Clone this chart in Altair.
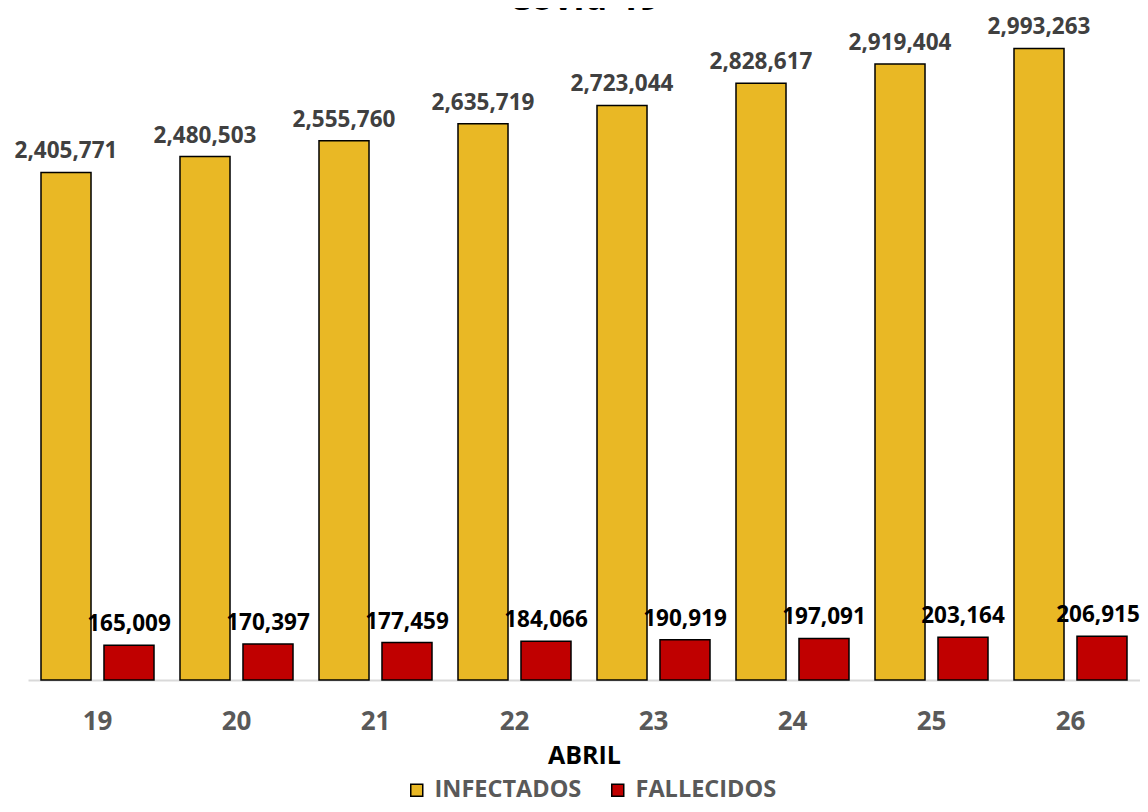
import altair as alt
import pandas as pd

days = ["19", "20", "21", "22", "23", "24", "25", "26"]
infectados = [2405771, 2480503, 2555760, 2635719, 2723044, 2828617, 2919404, 2993263]
fallecidos = [165009, 170397, 177459, 184066, 190919, 197091, 203164, 206915]
series = ["INFECTADOS", "FALLECIDOS"]
colors = ["#E9B825", "#C00000"]

rows = []
for d, i, f in zip(days, infectados, fallecidos):
    rows.append({"dia": d, "serie": series[0], "valor": i})
    rows.append({"dia": d, "serie": series[1], "valor": f})
df = pd.DataFrame(rows)

FONT = "Open Sans"

x = alt.X("dia:N", sort=days,
          scale=alt.Scale(paddingInner=0.187, paddingOuter=0.0935),
          axis=alt.Axis(title="ABRIL", labelAngle=0, ticks=False,
                        domainColor="#D9D9D9", domainWidth=2,
                        labelFont=FONT, labelFontSize=26, labelFontWeight="bold",
                        labelColor="#595959", labelPadding=28,
                        titleFont=FONT, titleFontSize=25, titleFontWeight="bold",
                        titleColor="#000000", titlePadding=9))
xo = alt.XOffset("serie:N", sort=series,
                 scale=alt.Scale(paddingInner=0.206, paddingOuter=0))
y = alt.Y("valor:Q", axis=None, scale=alt.Scale(domain=[0, 3000000], nice=False))

base = alt.Chart(df)

bars = base.mark_bar(stroke="#000000", strokeWidth=1.5).encode(
    x=x, xOffset=xo, y=y,
    color=alt.Color("serie:N", sort=series,
                    scale=alt.Scale(domain=series, range=colors),
                    legend=alt.Legend(title=None, orient="none", direction="horizontal",
                                      legendX=377, legendY=731,
                                      symbolType="square", symbolSize=144,
                                      symbolStrokeColor="#000000", symbolStrokeWidth=1.5,
                                      labelFont=FONT, labelFontSize=23.5, labelFontWeight="bold",
                                      labelColor="#595959", columnPadding=24, labelOffset=6)),
)

is_last = (alt.datum.dia == days[-1]) & (alt.datum.serie == series[1])
label_color = alt.condition(alt.datum.serie == "INFECTADOS",
                            alt.value("#404040"), alt.value("#000000"))

labels = base.mark_text(dy=-14, baseline="alphabetic", font=FONT, fontSize=22.5,
                        fontWeight="bold").encode(
    x=x, xOffset=xo, y=y,
    text=alt.Text("valor:Q", format=","),
    color=label_color,
).transform_filter(~is_last)

last_label = base.mark_text(dy=-14, dx=-4, baseline="alphabetic", font=FONT, fontSize=22.5,
                            fontWeight="bold").encode(
    x=x, xOffset=xo, y=y,
    text=alt.Text("valor:Q", format=","),
    color=label_color,
).transform_filter(is_last)

title = alt.Chart(pd.DataFrame({"t": ["Covid-19"]})).mark_text(
    font=FONT, fontSize=36, fontWeight="bold", baseline="alphabetic", align="center",
    color="#000000").encode(
    x=alt.value(556), y=alt.value(-37), text="t:N")

chart = alt.layer(bars, labels, last_label, title).properties(
    width=1112, height=633,
    autosize=alt.AutoSizeParams(type="none"),
    padding={"left": 20, "top": 39, "right": 0, "bottom": 124},
).configure_view(stroke=None)

chart.save("out.html", embed_options={"renderer": "svg", "actions": False})
